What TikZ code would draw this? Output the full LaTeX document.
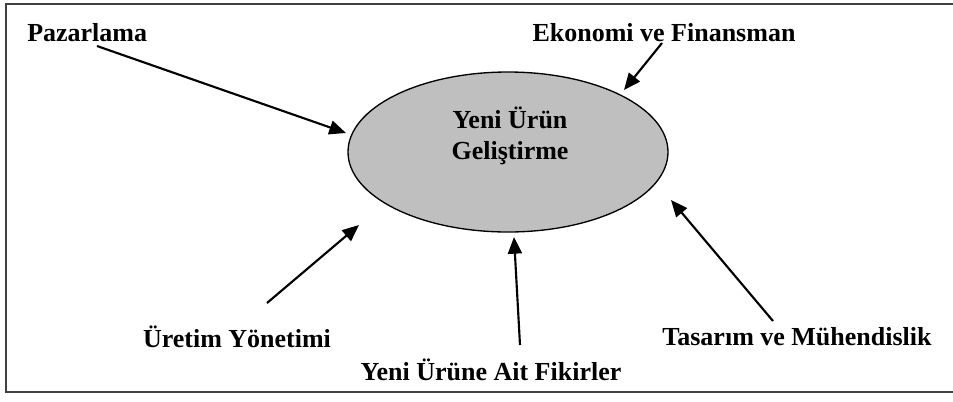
\documentclass[tikz,border=0pt]{standalone}
\usepackage{fontspec}
\setmainfont{Liberation Serif}
\usetikzlibrary{arrows.meta,shapes.geometric}
\begin{document}
\begin{tikzpicture}[x=0.75pt,y=-0.75pt,
  lbl/.style={font=\fontsize{19.5}{23}\selectfont\bfseries, inner sep=0pt},
  arr/.style={line width=1.6pt, -{Triangle[length=12.5pt,width=10.5pt]}},
  frame/.style={draw=black!75, line width=1.3pt}]
\useasboundingbox (0,0) rectangle (953,401);
\clip (0,0) rectangle (953,401);
\draw[frame] (6,4) rectangle (965,392);
\node[draw=black, line width=1pt, fill=black!25, ellipse, inner sep=0pt,
  minimum width=240pt, minimum height=120pt] (c) at (508,152) {};
\node[lbl, align=center, font=\fontsize{19.5}{23}\selectfont\bfseries] (ct) at (510,136) {Yeni Ürün\\Geliştirme};
\node[lbl, anchor=west] (paz) at (27,33) {Pazarlama};
\node[lbl] (eko) at (664,33) {Ekonomi ve Finansman};
\node[lbl] (ure) at (237,337) {Üretim Yönetimi};
\node[lbl] (fik) at (491,370) {Yeni Ürüne Ait Fikirler};
\node[lbl] (tas) at (797,337) {Tasarım ve Mühendislik};
\coordinate (a1s) at (97,46);   \coordinate (a1e) at (346,133);
\coordinate (a2s) at (662,43);  \coordinate (a2e) at (624,90);
\coordinate (a3s) at (267,303); \coordinate (a3e) at (359,225);
\coordinate (a4s) at (520,345); \coordinate (a4e) at (514,237);
\coordinate (a5s) at (773,321); \coordinate (a5e) at (671,200);
\draw[arr] (a1s) -- (a1e);
\draw[arr] (a2s) -- (a2e);
\draw[arr] (a3s) -- (a3e);
\draw[arr] (a4s) -- (a4e);
\draw[arr] (a5s) -- (a5e);
\end{tikzpicture}
\end{document}
